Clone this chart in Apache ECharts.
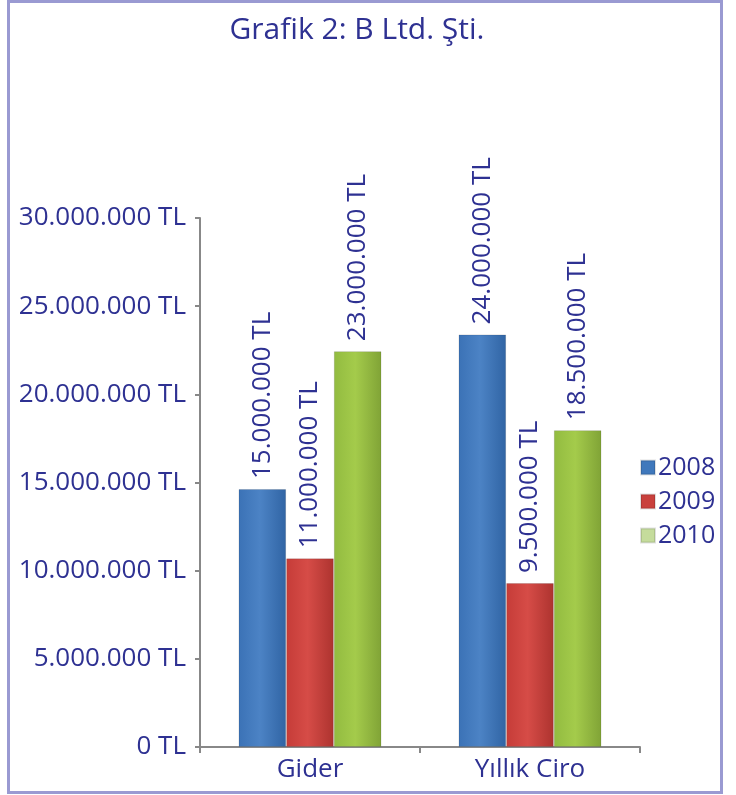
<!DOCTYPE html>
<html><head><meta charset="utf-8">
<script src="https://cdn.jsdelivr.net/npm/echarts@6/dist/echarts.min.js"></script>
<style>html,body{margin:0;padding:0;background:#fff}#c{width:736px;height:795px}</style>
</head><body><div id="c"></div>
<script>
const categories = ['Gider', 'Yıllık Ciro'];
const years = ['2008', '2009', '2010'];
// bar heights as drawn
const v2008 = [14630000, 23400000];
const v2009 = [10700000, 9300000];
const v2010 = [22450000, 17970000];
// label texts as printed
const l2008 = ['15.000.000 TL', '24.000.000 TL'];
const l2009 = ['11.000.000 TL', '9.500.000 TL'];
const l2010 = ['23.000.000 TL', '18.500.000 TL'];
const yTicks = [0, 5000000, 10000000, 15000000, 20000000, 25000000, 30000000];

const txt = '#2e3192';
const font = 'Open Sans';
function grad(a, b, c) {
  return new echarts.graphic.LinearGradient(0, 0, 1, 0, [
    {offset: 0, color: a}, {offset: 0.45, color: b}, {offset: 1, color: c}]);
}
const colors = [grad('#3b72b6', '#4c83c5', '#3064a4'), grad('#c53c38', '#d64c47', '#ad332f'), grad('#92bb40', '#a4cb4b', '#80a336')];
const legendColors = ['#3f78bc', '#c9403c', '#c5dc9c'];
function fmt(n) { return String(n).replace(/\B(?=(\d{3})+(?!\d))/g, '.') + ' TL'; }
const vals = [v2008, v2009, v2010];
const labs = [l2008, l2009, l2010];
const chart = echarts.init(document.getElementById('c'));
chart.setOption({
  backgroundColor: '#fff',
  animation: false,
  title: {text: 'Grafik 2: B Ltd. Şti.', left: 352, textAlign: 'center', top: 10,
    textStyle: {color: txt, fontFamily: font, fontSize: 30, fontWeight: 'normal'}},
  graphic: [{type: 'rect', shape: {x: 8.5, y: 1.5, width: 713, height: 791}, style: {fill: 'none', stroke: '#9a9ad2', lineWidth: 3}, silent: true}],
  legend: {orient: 'vertical', left: 635, top: 450, itemGap: 9, itemWidth: 14, itemHeight: 14,
    textStyle: {color: txt, fontFamily: font, fontSize: 25, padding: [0, 0, 0, -2]},
    data: years.map((y, i) => ({name: y, icon: 'rect', itemStyle: {color: legendColors[i]}}))},
  grid: {left: 200, right: 96, top: 218, bottom: 48},
  xAxis: {type: 'category', data: categories,
    axisLine: {lineStyle: {color: '#888', width: 2}},
    axisTick: {show: true, length: 6, lineStyle: {color: '#888', width: 2}},
    axisLabel: {color: txt, fontFamily: font, fontSize: 26, margin: 10}},
  yAxis: {type: 'value', min: 0, max: 30000000, interval: 5000000,
    axisLine: {show: true, lineStyle: {color: '#888', width: 2}},
    axisTick: {show: true, length: 5, lineStyle: {color: '#888', width: 2}},
    splitLine: {show: false},
    axisLabel: {color: txt, fontFamily: font, fontSize: 26, margin: 14, formatter: v => fmt(v)}},
  series: years.map((y, i) => ({
    name: y, type: 'bar', data: vals[i], barGap: '0%', barCategoryGap: '35%',
    itemStyle: {color: colors[i], borderColor: 'rgba(0,0,0,0.12)', borderWidth: 1},
    label: {show: true, position: 'top', rotate: 90, align: 'left', verticalAlign: 'middle', distance: 10,
      color: txt, fontFamily: font, fontSize: 26,
      formatter: p => labs[i][p.dataIndex]}
  }))
});
</script></body></html>
